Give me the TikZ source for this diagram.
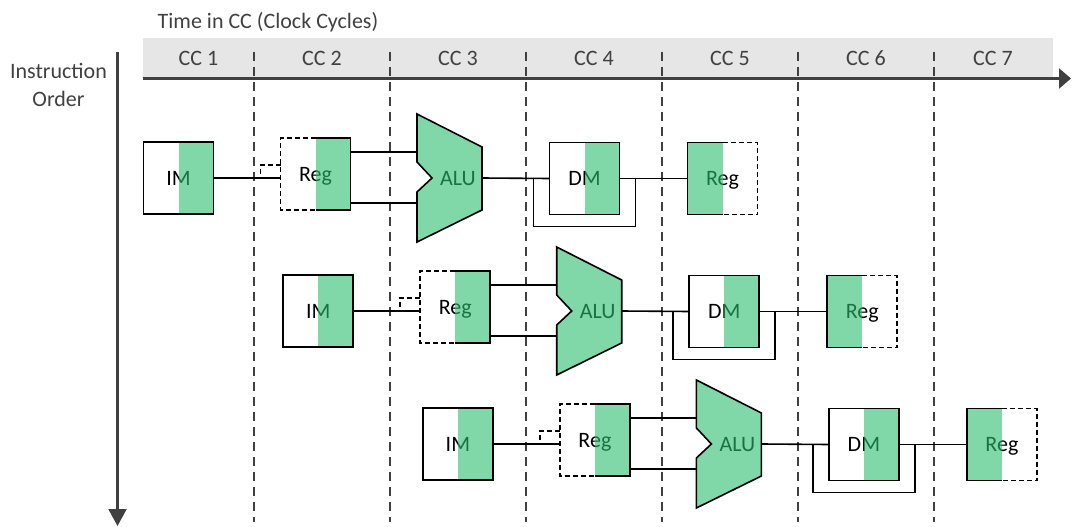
\documentclass[tikz,border=0pt]{standalone}
\usepackage{fontspec}
\setmainfont{Carlito}
\usetikzlibrary{calc, positioning, arrows.meta}
\definecolor{stagegreen}{RGB}{43, 190, 110}
\definecolor{bandgray}{RGB}{230, 230, 230}
\definecolor{axisgray}{RGB}{64, 64, 64}

\begin{document}
\begin{tikzpicture}[x=1pt, y=-1pt, font=\fontsize{22}{25}\selectfont,
    unitbox/.style={inner sep=0pt, outer sep=0pt, minimum width=70pt, minimum height=72pt,
                    text height=14pt, text depth=0pt},
    shade/.style={fill=stagegreen, fill opacity=0.6},
    wire/.style={line width=1.6pt},
    halfline/.style={line width=1.6pt, dash pattern=on 5pt off 3pt},
    ccline/.style={axisgray, line width=1.8pt, dash pattern=on 9pt off 6pt},
    axis/.style={axisgray, line width=2.2pt}]

\useasboundingbox (0,0) rectangle (1072,527);

% header band and labels
\node[fill=bandgray, inner sep=0pt, outer sep=0pt, minimum width=910pt, minimum height=40pt] (band) at (597.5,58.5) {};
\node[text=axisgray, anchor=base] (title) at (268,29) {Time in CC (Clock Cycles)};
\node[text=axisgray, align=center, font=\fontsize{22}{28}\selectfont] (order) at (58.5,84.5) {Instruction\\Order};
\foreach \c [count=\i] in {198.5, 322, 458, 594, 730, 866, 993}
    \node[text=axisgray, anchor=base] (cc\i) at (\c,66) {CC \i};

% clock cycle borders
\foreach \i in {1,...,6}
    \draw[ccline] ({254+136*(\i-1)},52) -- ++(0,470);

% axes
\coordinate (timeend) at (1071,78.5);
\coordinate (ordertop) at (117.5,52);
\coordinate (orderend) at (117.5,526);
\draw[axis, -{Triangle[length=12pt, width=20pt]}] (band.south west) -- (timeend);
\draw[axis, -{Triangle[length=17pt, width=18pt]}] (ordertop) -- (orderend);

% pipeline rows
\foreach \r in {1,2,3} {
\begin{scope}[shift={({139.7*(\r-1)},{133*(\r-1)})}]
    \node[unitbox] (im\r) at (178.5,178) {IM};
    \node[unitbox] (reg\r) at (315.5,174) {Reg};
    \node[unitbox, minimum width=65pt, minimum height=128pt,
          label={[xshift=8.5pt, text height=14pt, text depth=0pt]center:ALU}] (alu\r) at (449.5,178) {};
    \node[unitbox] (dm\r) at (584.5,178.5) {DM};
    \node[unitbox] (wb\r) at (722.5,178.5) {Reg};

    % instruction memory
    \fill[shade] (im\r.south) rectangle (im\r.north east);
    \draw[wire] (im\r.south west) rectangle (im\r.north east);
    % register read
    \fill[shade] (reg\r.south) rectangle (reg\r.north east);
    \draw[halfline] (reg\r.north) -| (reg\r.south west) -- (reg\r.south);
    \draw[wire] (reg\r.north) -| (reg\r.south east) -- (reg\r.south);
    % alu
    \filldraw[wire, fill=stagegreen, fill opacity=0.6] (alu\r.north west) -- ($(alu\r.north east)+(0,33)$)
        -- ($(alu\r.south east)+(0,-32)$) -- (alu\r.south west) -- ($(alu\r.west)+(0,14)$)
        -- ($(alu\r.west)+(15,0)$) -- ($(alu\r.west)+(0,-16)$) -- cycle;
    % data memory
    \fill[shade] (dm\r.south) rectangle (dm\r.north east);
    \draw[wire] (dm\r.south west) rectangle (dm\r.north east);
    % register write
    \fill[shade] (wb\r.south west) rectangle (wb\r.north);
    \draw[wire] (wb\r.north) -| (wb\r.south west) -- (wb\r.south);
    \draw[halfline] (wb\r.north) -| (wb\r.south east) -- (wb\r.south);

    % wires
    \coordinate (alua\r) at ([yshift=26pt]alu\r.west);
    \coordinate (alub\r) at ([yshift=-25pt]alu\r.west);
    \draw[wire] (im\r.east) -- (im\r.east -| reg\r.west);
    \draw[halfline, line width=1.4pt] ([yshift=9pt]reg\r.west) -| ($(im\r.east)!0.7!(im\r.east -| reg\r.west)$);
    \draw[wire] (alua\r -| reg\r.east) -- (alua\r);
    \draw[wire] (alub\r -| reg\r.east) -- (alub\r);
    \draw[wire] (alu\r.east) -- (dm\r.west);
    \draw[wire] ([xshift=-16pt]dm\r.west) |- ([shift={(16pt,-12pt)}]dm\r.south east) -- ([xshift=16pt]dm\r.east);
    \draw[wire] (dm\r.east) -- (wb\r.west);
\end{scope}
}
\end{tikzpicture}
\end{document}
